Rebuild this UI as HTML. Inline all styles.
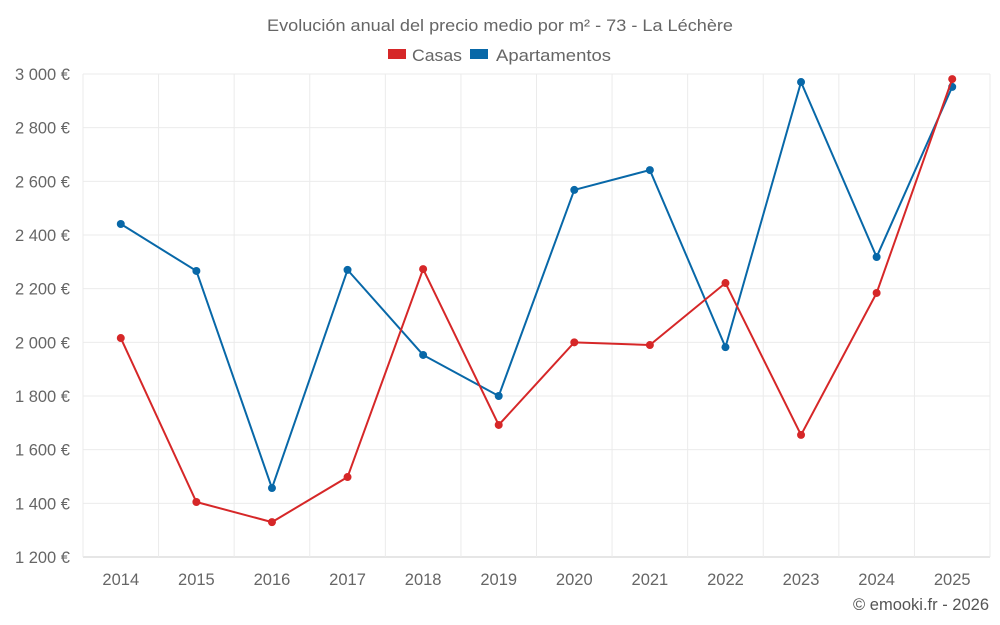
<!DOCTYPE html>
<html><head><meta charset="utf-8"><style>
html,body{margin:0;padding:0;background:#fff;}
svg{display:block;font-family:"Liberation Sans",sans-serif;}
</style></head><body>
<svg id="chart" width="1000" height="625">
<text x="267" y="31" textLength="466" lengthAdjust="spacingAndGlyphs" font-size="16.5" fill="#666">Evolución anual del precio medio por m² - 73 - La Léchère</text>
<g>
<g><rect x="388" y="49" width="18" height="10" fill="#d62728"/><text x="412" y="61" font-size="16.5" fill="#666" textLength="50" lengthAdjust="spacingAndGlyphs">Casas</text></g>
<g><rect x="470" y="49" width="18" height="10" fill="#0868a8"/><text x="496" y="61" font-size="16.5" fill="#666" textLength="115" lengthAdjust="spacingAndGlyphs">Apartamentos</text></g>
</g>
<g id="grid"></g>
<g id="axes"></g>
<g id="series"></g>
<text x="989" y="610" text-anchor="end" font-size="16.5" fill="#555">© emooki.fr - 2026</text>
</svg>
<script>
const years=["2014","2015","2016","2017","2018","2019","2020","2021","2022","2023","2024","2025"];
const casas=[2016,1405,1330,1498,2273,1692,2000,1990,2221,1655,2184,2981];
const apartamentos=[2441,2266,1457,2270,1953,1800,2568,2642,1982,2970,2318,2952];
const yTicks=[1200,1400,1600,1800,2000,2200,2400,2600,2800,3000];
const yTickLabels=["1 200 €","1 400 €","1 600 €","1 800 €","2 000 €","2 200 €","2 400 €","2 600 €","2 800 €","3 000 €"];
const L=83,R=990,T=74,B=557,yMin=1200,yMax=3000;
const NS="http://www.w3.org/2000/svg";
const step=(R-L)/years.length;
function xS(i){return L+step*(i+0.5);}
function yS(v){return B-(v-yMin)/(yMax-yMin)*(B-T);}
function mk(tag,attrs,parent){const e=document.createElementNS(NS,tag);for(const k in attrs)e.setAttribute(k,attrs[k]);parent.appendChild(e);return e;}
const grid=document.getElementById('grid'),axes=document.getElementById('axes'),series=document.getElementById('series');
yTicks.forEach((v,i)=>{
 const ln=mk('line',{x1:L,x2:R,y1:yS(v),y2:yS(v),stroke:i===0?'#ccc':'#ebebeb','stroke-width':1},grid);
 
 
 const t=mk('text',{x:70,y:yS(v)+6,'text-anchor':'end','font-size':16.5,fill:'#666'},axes);
 t.textContent=yTickLabels[i];
 
 
});
for(let i=0;i<=years.length;i++){
 const ln=mk('line',{x1:L+step*i,x2:L+step*i,y1:T,y2:B,stroke:'#ebebeb','stroke-width':1},grid);
 
 
}
years.forEach((y,i)=>{
 const t=mk('text',{x:xS(i),y:585,'text-anchor':'middle','font-size':16.5,fill:'#666'},axes);
 t.textContent=y;
 
 
});
function draw(vals,color,name){
 const p=mk('polyline',{points:vals.map((v,i)=>xS(i)+','+yS(v)).join(' '),fill:'none',stroke:color,'stroke-width':2},series);
 
 
 vals.forEach((v,i)=>{
  const c=mk('circle',{cx:xS(i),cy:yS(v),r:4,fill:color},series);
  
  
 });
}
draw(apartamentos,'#0868a8','apartamentos');
draw(casas,'#d62728','casas');
</script>
</body></html>
